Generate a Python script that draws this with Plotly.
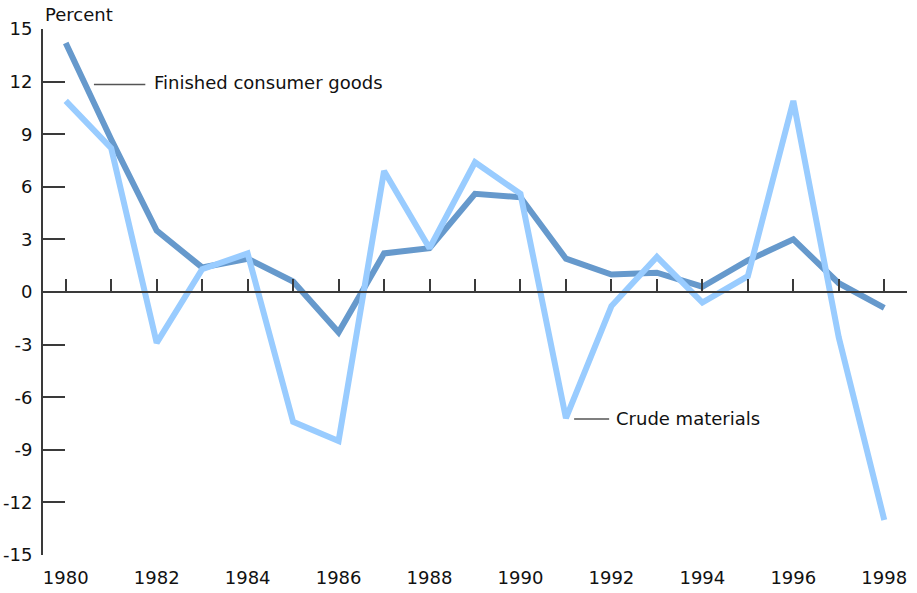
import plotly.graph_objects as go

years = list(range(1980, 1999))
finished = [14.2, 8.7, 3.5, 1.4, 1.9, 0.6, -2.3, 2.2, 2.5, 5.6, 5.4, 1.9, 1.0, 1.1, 0.3, 1.8, 3.0, 0.5, -0.9]
crude = [10.9, 8.2, -2.9, 1.3, 2.2, -7.4, -8.5, 6.9, 2.5, 7.4, 5.6, -7.2, -0.8, 2.0, -0.6, 0.9, 10.9, -2.6, -13.0]
y_ticks = [15, 12, 9, 6, 3, 0, -3, -6, -9, -12, -15]
y_ticktext = ["15", "12", "9", "6", "3", "0", "-3", "-6", "-9", "-12", "-15"]
x_label_years = [1980, 1982, 1984, 1986, 1988, 1990, 1992, 1994, 1996, 1998]

DARK = "#6699CC"
LIGHT = "#99CCFF"
AX = "#3a3a3a"
FONT = "DejaVu Sans"
FS = 18

fig = go.Figure()
fig.add_trace(go.Scatter(x=years, y=finished, mode="lines", name="Finished consumer goods",
                         line=dict(color=DARK, width=6), xaxis="x", yaxis="y"))
fig.add_trace(go.Scatter(x=years, y=crude, mode="lines", name="Crude materials",
                         line=dict(color=LIGHT, width=6), xaxis="x2", yaxis="y"))

xr = [1979.5, 1998.5]
fig.update_layout(
    width=917, height=593,
    margin=dict(l=43, r=10, t=29, b=38, autoexpand=False),
    paper_bgcolor="white", plot_bgcolor="white",
    showlegend=False,
    font=dict(family=FONT, size=FS, color="#111"),
    xaxis=dict(range=xr, anchor="free", position=0.5, side="bottom", automargin=False,
               showgrid=False, zeroline=False, showline=True, linecolor=AX, linewidth=2,
               ticks="inside", ticklen=12, tickwidth=2, tickcolor=AX, dtick=1, tick0=1980,
               showticklabels=False),
    xaxis2=dict(range=xr, overlaying="x", anchor="y", side="bottom", matches="x", automargin=False,
                showgrid=False, zeroline=False, showline=False, ticks="",
                tickvals=x_label_years, ticktext=[str(v) for v in x_label_years],
                ticklabelstandoff=10, tickfont=dict(family=FONT, size=FS, color="#111")),
    yaxis=dict(range=[-15, 15], domain=[0, 1], showgrid=False, zeroline=False, automargin=False,
               showline=True, linecolor=AX, linewidth=2,
               ticks="inside", ticklen=22, tickwidth=2, tickcolor=AX,
               tickvals=y_ticks, ticktext=y_ticktext, ticklabelstandoff=5,
               tickfont=dict(family=FONT, size=FS, color="#111")),
)

# Labels and leader lines
fig.add_annotation(text="Percent", xref="paper", yref="paper", x=0.0, y=1.0, xanchor="left",
                   yanchor="bottom", yshift=2, showarrow=False, font=dict(family=FONT, size=FS, color="#111"))
fig.add_annotation(text="Finished consumer goods", xref="x", yref="y", x=1981.9, y=11.95,
                   xanchor="left", yanchor="middle", showarrow=False,
                   font=dict(family=FONT, size=FS, color="#111"))
fig.add_annotation(text="Crude materials", xref="x", yref="y", x=1992.05, y=-7.2,
                   xanchor="left", yanchor="middle", showarrow=False,
                   font=dict(family=FONT, size=FS, color="#111"))
fig.add_shape(type="line", xref="x", yref="y", x0=1980.62, x1=1981.75, y0=11.84, y1=11.84,
              line=dict(color="#555", width=1.5))
fig.add_shape(type="line", xref="x", yref="y", x0=1991.18, x1=1991.95, y0=-7.24, y1=-7.24,
              line=dict(color="#555", width=1.5))

fig.write_html("out.html", config={"displayModeBar": False},
               post_script="document.body.style.margin='0';document.body.style.padding='0';")
